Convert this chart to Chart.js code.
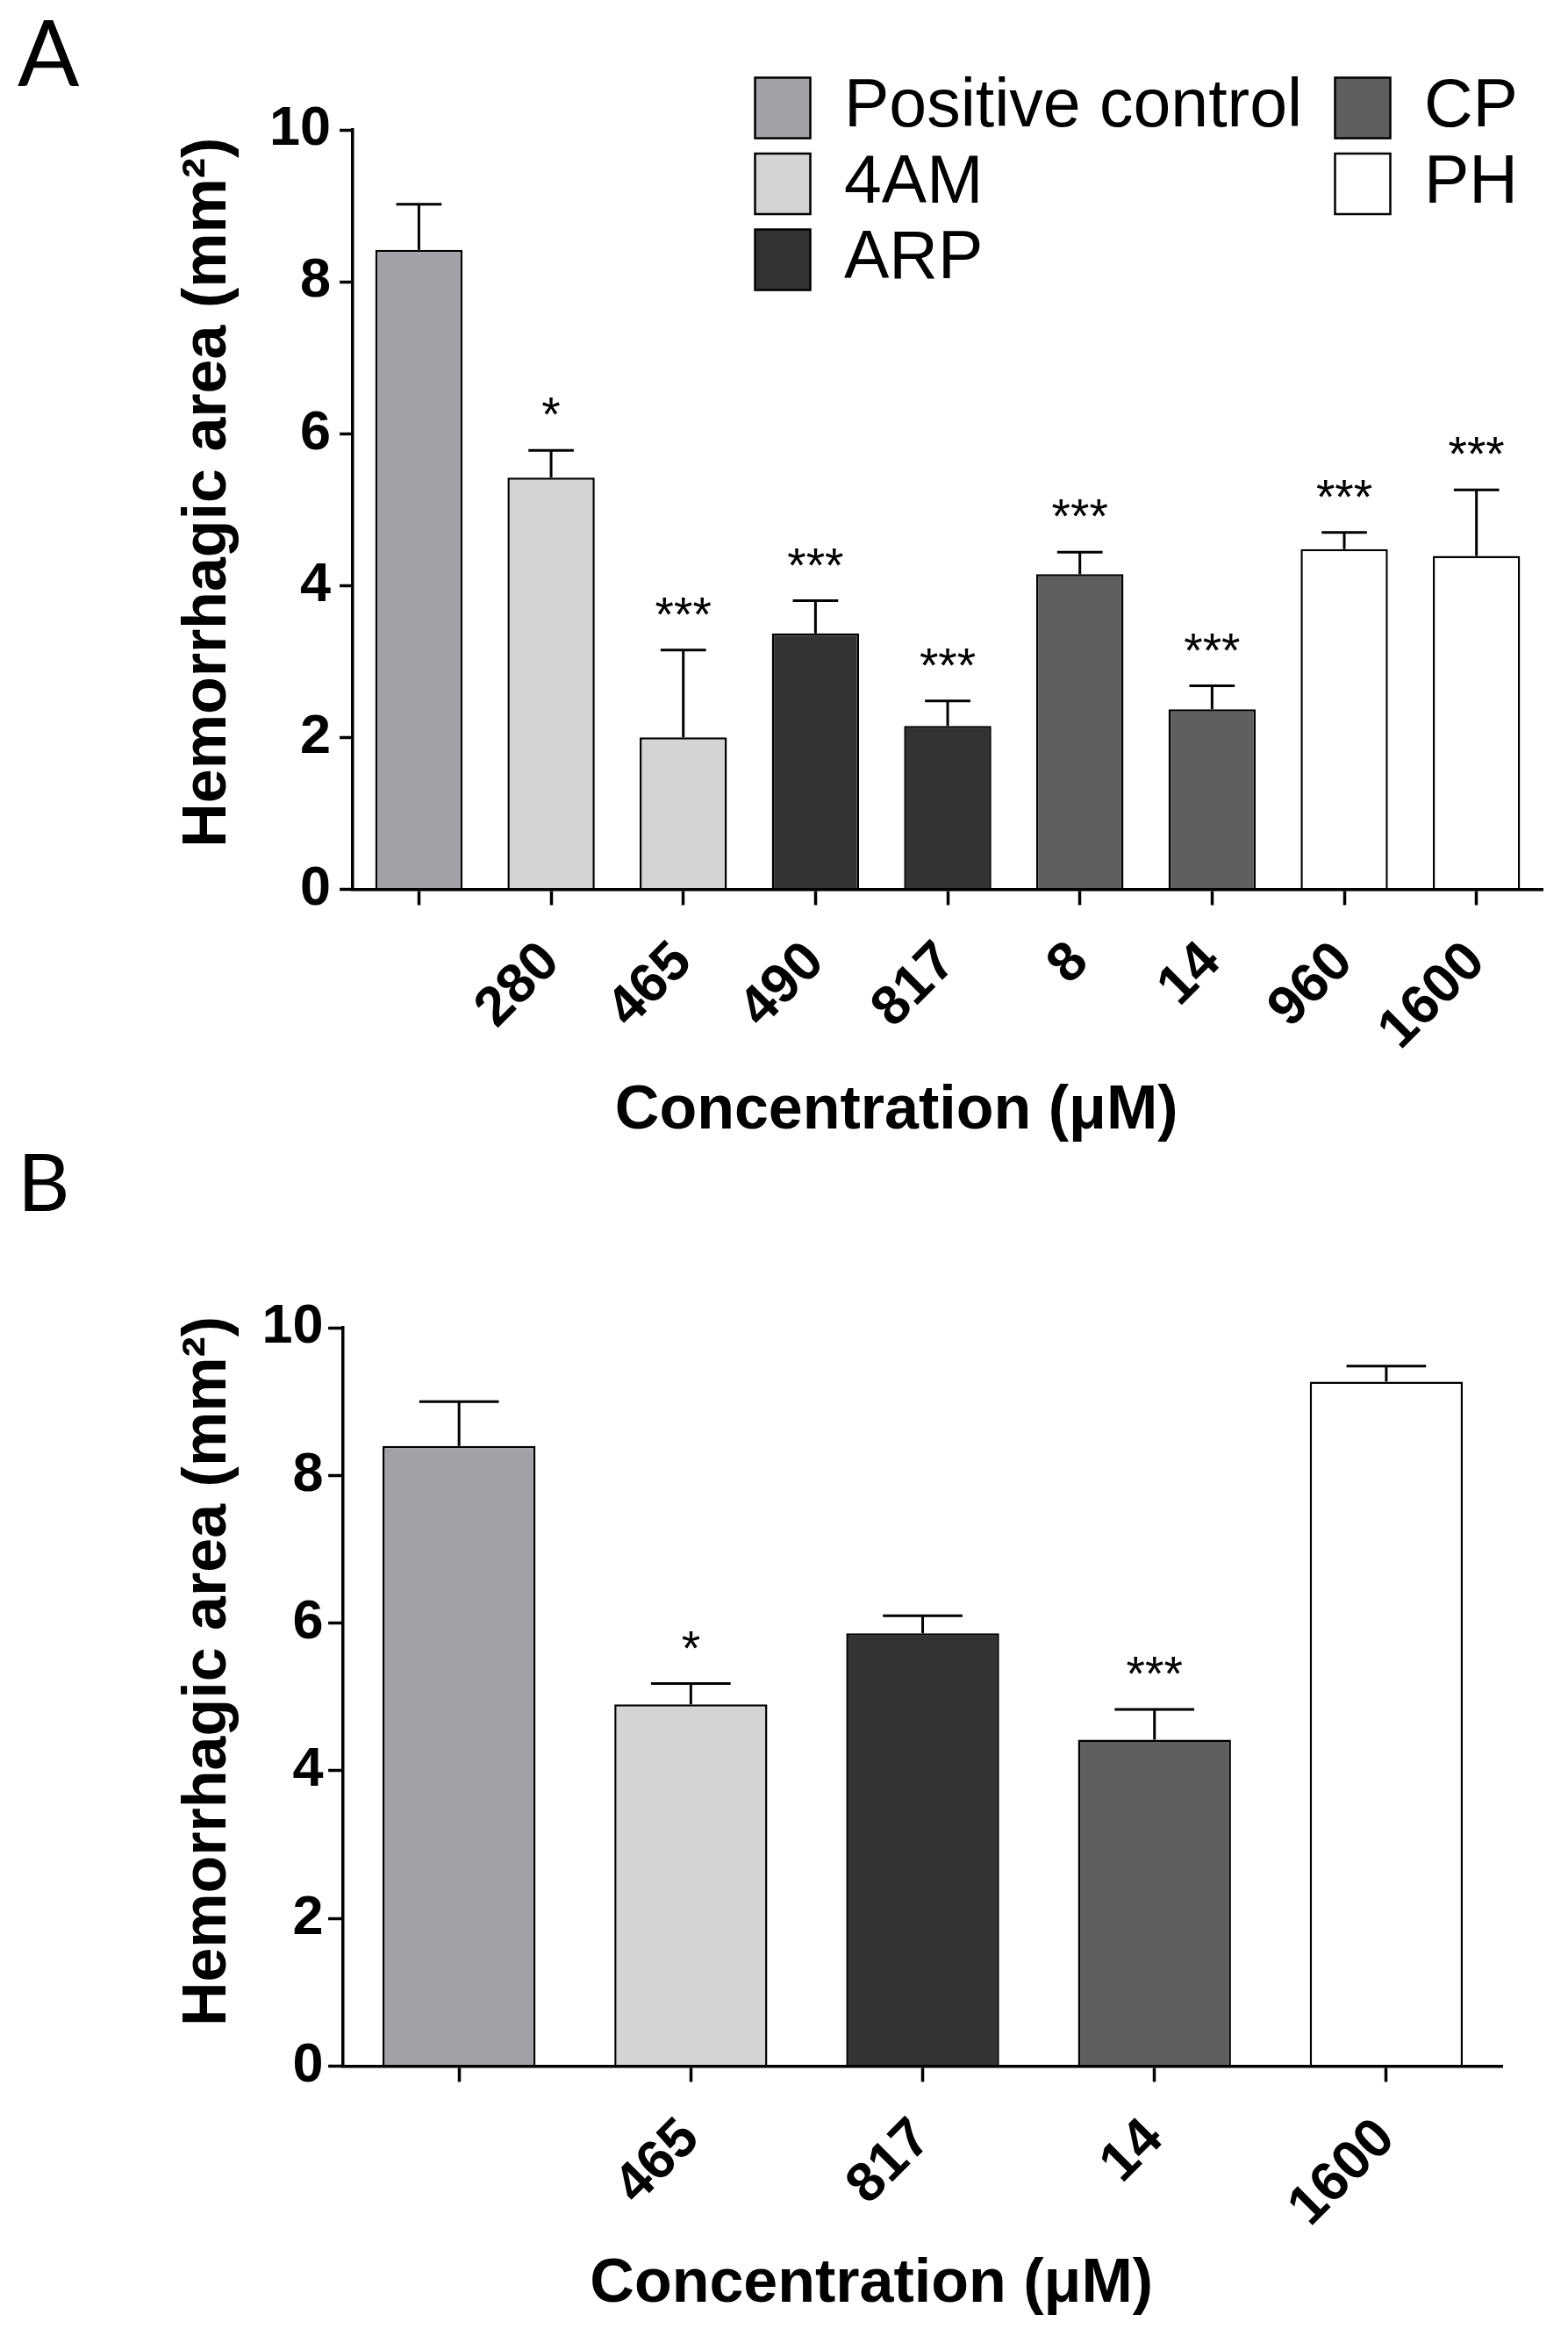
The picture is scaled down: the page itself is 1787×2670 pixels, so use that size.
<!DOCTYPE html>
<html>
<head>
<meta charset="utf-8">
<script src="https://cdn.jsdelivr.net/npm/chart.js@4.4.1/dist/chart.umd.min.js"></script>
<style>
html, body { margin: 0; padding: 0; background: #ffffff; width: 1787px; height: 2670px; overflow: hidden; position: relative; }
canvas { position: absolute; }
</style>
</head>
<body>
<canvas id="chartA" width="1787" height="1313" style="left:0px;top:0px"></canvas>
<canvas id="chartB" width="1787" height="1370" style="left:0px;top:1280px"></canvas>
<canvas id="legend1" width="760" height="300" style="left:851px;top:75px"></canvas>
<canvas id="legend2" width="275" height="300" style="left:1512px;top:75px"></canvas>
<script>
// ---------------- data ----------------
const groupNames  = ['Positive control', '4AM', 'ARP', 'CP', 'PH'];
const groupColors = ['#a2a1a6', '#d4d4d4', '#333333', '#5f5f5f', '#ffffff'];

const labelsA = ['', '280', '465', '490', '817', '8', '14', '960', '1600'];
const groupA  = [0, 1, 1, 2, 2, 3, 3, 4, 4];
const meanA   = [8.42, 5.42, 2.00, 3.37, 2.15, 4.15, 2.37, 4.48, 4.39];
const semA    = [0.60, 0.36, 1.15, 0.43, 0.33, 0.29, 0.31, 0.22, 0.87];
const starsA  = ['', '*', '***', '***', '***', '***', '***', '***', '***'];

const labelsB = ['', '465', '817', '14', '1600'];
const groupB  = [0, 1, 2, 3, 4];
const meanB   = [8.40, 4.90, 5.86, 4.42, 9.27];
const semB    = [0.60, 0.28, 0.24, 0.41, 0.21];
const starsB  = ['', '*', '', '***', ''];

const yMin = 0, yMax = 10, yStep = 2;
const yTitle = 'Hemorrhagic area (mm\u00B2)';
const xTitle = 'Concentration (\u03BCM)';

// ---------------- style ----------------
const SANS = "'Liberation Sans', Arial, Helvetica, sans-serif";
const PANEL = "Lato, 'Open Sans', 'Liberation Sans', sans-serif";
const NB = '\u00A0';

const errorBarPlugin = {
  id: 'errorBars',
  afterDatasetsDraw(chart) {
    const ctx = chart.ctx;
    const y = chart.scales.y;
    const ds = chart.data.datasets[0];
    const meta = chart.getDatasetMeta(0);
    meta.data.forEach((bar, i) => {
      const v = ds.data[i];
      const e = ds.errors[i];
      const yBar = y.getPixelForValue(v);
      const yTop = y.getPixelForValue(v + e);
      const half = bar.width * 0.26;
      ctx.save();
      ctx.strokeStyle = '#000';
      ctx.lineWidth = 3;
      ctx.beginPath();
      ctx.moveTo(bar.x, yBar);
      ctx.lineTo(bar.x, yTop);
      ctx.moveTo(bar.x - half, yTop);
      ctx.lineTo(bar.x + half, yTop);
      ctx.stroke();
      if (ds.stars[i]) {
        ctx.fillStyle = '#000';
        ctx.font = 'normal 55px ' + SANS;
        ctx.textAlign = 'center';
        ctx.textBaseline = 'alphabetic';
        ctx.fillText(ds.stars[i], bar.x, yTop - 22);
      }
      ctx.restore();
    });
  }
};

function makePanel(id, cfg) {
  return new Chart(document.getElementById(id), {
    type: 'bar',
    data: {
      labels: cfg.labels,
      datasets: [{
        label: cfg.panel,
        data: cfg.means,
        errors: cfg.sems,
        stars: cfg.stars,
        backgroundColor: cfg.groups.map(g => groupColors[g]),
        borderColor: '#000',
        borderWidth: 2.5,
        barPercentage: 0.66,
        categoryPercentage: 1.0
      }]
    },
    options: {
      responsive: false,
      animation: false,
      devicePixelRatio: 1,
      layout: { padding: { left: 20, right: cfg.padRight, top: 0, bottom: 0 } },
      plugins: {
        legend: { display: false },
        tooltip: { enabled: false },
        title: {
          display: true, text: cfg.panel, align: 'start', color: '#000',
          font: { family: PANEL, size: cfg.panelSize, weight: 'normal', lineHeight: 1 },
          padding: { top: cfg.panelPadTop, bottom: cfg.panelPadBottom }
        }
      },
      scales: {
        x: {
          offset: true,
          grid: { display: true, drawOnChartArea: false, offset: false, drawTicks: true,
                  tickLength: 18, tickWidth: 3.5, tickColor: '#000', z: 1 },
          border: { display: true, color: '#000', width: 3.5, z: 1 },
          ticks: { autoSkip: false, minRotation: 45, maxRotation: 45, padding: 28, color: '#000',
                   font: { family: SANS, size: 63, weight: 'bold' } },
          title: { display: true, text: xTitle + NB.repeat(6), color: '#000',
                   font: { family: SANS, size: 70, weight: 'bold' },
                   padding: { top: cfg.xTitlePadTop, bottom: 4 } }
        },
        y: {
          min: yMin, max: yMax,
          ticks: { stepSize: yStep, padding: cfg.yTickPad, color: '#000',
                   font: { family: SANS, size: 63, weight: 'bold' } },
          grid: { display: true, drawOnChartArea: false, drawTicks: true,
                  tickLength: cfg.yTickLen, tickWidth: 3.5, tickColor: '#000' },
          border: { display: true, color: '#000', width: 3.5 },
          title: { display: true, text: NB.repeat(cfg.yTitleLead) + yTitle, color: '#000',
                   font: { family: SANS, size: 70, weight: 'bold' },
                   padding: { top: 175.5, bottom: cfg.yTitlePadBottom } }
        }
      }
    },
    plugins: [errorBarPlugin]
  });
}

function makeLegend(id, idxs) {
  return new Chart(document.getElementById(id), {
    type: 'bar',
    data: {
      labels: [],
      datasets: idxs.map(i => ({
        label: groupNames[i], data: [],
        backgroundColor: groupColors[i], borderColor: '#000', borderWidth: 2.5
      }))
    },
    options: {
      responsive: false,
      animation: false,
      devicePixelRatio: 1,
      layout: { padding: 0 },
      scales: { x: { display: false }, y: { display: false } },
      plugins: {
        tooltip: { enabled: false },
        title: { display: false },
        legend: {
          display: true, position: 'left', align: 'start', maxWidth: 740,
          labels: { boxWidth: 63, boxHeight: 69, padding: 9.5, color: '#000',
                    font: { family: SANS, size: 77, weight: 'normal' } }
        }
      }
    }
  });
}

makePanel('chartA', {
  panel: 'A', labels: labelsA, groups: groupA, means: meanA, sems: semA, stars: starsA,
  padRight: 29, panelSize: 104, panelPadTop: 12, panelPadBottom: 32,
  xTitlePadTop: -15, yTickPad: 10, yTickLen: 15, yTitlePadBottom: 17.5, yTitleLead: 2
});

makePanel('chartB', {
  panel: 'B', labels: labelsB, groups: groupB, means: meanB, sems: semB, stars: starsB,
  padRight: 75, panelSize: 92, panelPadTop: 24, panelPadBottom: 117,
  xTitlePadTop: -19, yTickPad: 5.5, yTickLen: 17, yTitlePadBottom: 13.5, yTitleLead: 3
});

makeLegend('legend1', [0, 1, 2]);
makeLegend('legend2', [3, 4]);
</script>
</body>
</html>
